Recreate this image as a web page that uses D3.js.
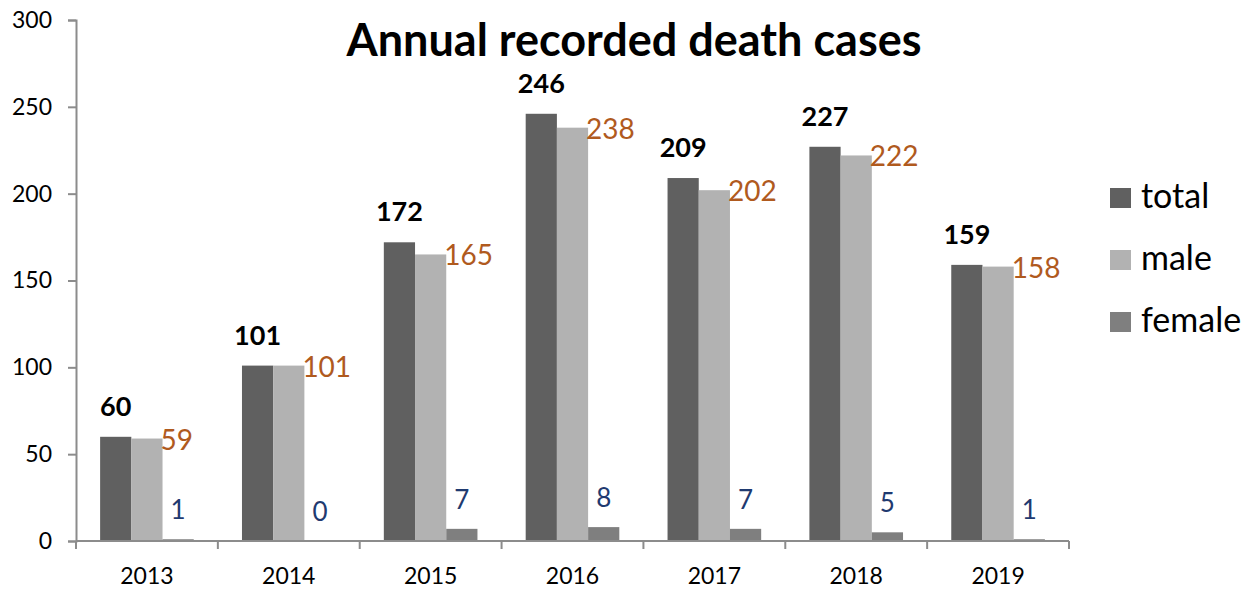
<!DOCTYPE html>
<html lang="en">
<head>
<meta charset="UTF-8">
<title>Annual recorded death cases</title>
<script src="https://d3js.org/d3.v7.min.js"></script>
<style>
  body { margin: 0; background: #fff; }
  svg text { font-family: Lato, "Open Sans", sans-serif; }
</style>
</head>
<body>
<svg id="chart" width="1257" height="590"></svg>
<script>
// data
var years = ["2013", "2014", "2015", "2016", "2017", "2018", "2019"];
var total = [60, 101, 172, 246, 209, 227, 159];
var male = [59, 101, 165, 238, 202, 222, 158];
var female = [1, 0, 7, 8, 7, 5, 1];
var seriesNames = ["total", "male", "female"];
var yTicks = [0, 50, 100, 150, 200, 250, 300];

var svg = d3.select("#chart");

var colors = { total: "#606060", male: "#b2b2b2", female: "#7f7f7f" };
var axisColor = "#8c8c8c";

var rows = years.map(function(y, i) {
  return { year: y, total: total[i], male: male[i], female: female[i] };
});

var plotLeft = 76, plotRight = 1069, plotTop = 20, plotBottom = 541;

var x0 = d3.scaleBand()
  .domain(years)
  .range([plotLeft, plotRight])
  .paddingInner(0.34)
  .paddingOuter(0.17);

var x1 = d3.scaleBand()
  .domain(seriesNames)
  .range([0, x0.bandwidth()]);

var y = d3.scaleLinear()
  .domain([0, 300])
  .range([plotBottom, plotTop]);

// bars
var groups = svg.append("g")
  .selectAll("g")
  .data(rows)
  .enter()
  .append("g")
    .attr("transform", function(d) { return "translate(" + x0(d.year) + ",0)"; });

groups.selectAll("rect")
  .data(function(d) { return seriesNames.map(function(k) { return { key: k, value: d[k] }; }); })
  .enter()
  .append("rect")
    .attr("x", function(d) { return x1(d.key); })
    .attr("y", function(d) { return y(d.value); })
    .attr("width", x1.bandwidth())
    .attr("height", function(d) { return y(0) - y(d.value); })
    .attr("fill", function(d) { return colors[d.key]; });

// y axis
var yAxis = svg.append("g")
  .attr("transform", "translate(" + plotLeft + ",0)")
  .call(d3.axisLeft(y).tickValues(yTicks).tickSize(8).tickPadding(16));
yAxis.select(".domain").attr("stroke", axisColor).attr("stroke-width", 2);
yAxis.selectAll(".tick line").attr("stroke", axisColor).attr("stroke-width", 2);
yAxis.selectAll(".tick text")
  .attr("fill", "#000")
  .style("font-size", "23px");

// x axis: ticks sit at category boundaries
var xAxis = svg.append("g").attr("transform", "translate(0," + plotBottom + ")");
xAxis.append("line")
  .attr("x1", plotLeft).attr("x2", plotRight)
  .attr("stroke", axisColor).attr("stroke-width", 2);
var bounds = years.map(function(yr) { return x0(yr) - x0.step() * 0.17; });
bounds.push(plotRight);
xAxis.selectAll(".xtick")
  .data(bounds)
  .enter()
  .append("line")
    .attr("x1", function(d) { return d; })
    .attr("x2", function(d) { return d; })
    .attr("y1", 0).attr("y2", 8)
    .attr("stroke", axisColor).attr("stroke-width", 2);
xAxis.selectAll(".xlabel")
  .data(years)
  .enter()
  .append("text")
    .attr("x", function(d) { return x0(d) + x0.bandwidth() / 2; })
    .attr("y", 43)
    .attr("text-anchor", "middle")
    .style("font-size", "23px")
    .text(function(d) { return d; });

// value labels
groups.append("text")
  .attr("x", x1("total") + x1.bandwidth() / 2)
  .attr("y", function(d) { return y(d.total) - 21; })
  .attr("text-anchor", "middle")
  .style("font-size", "27px")
  .style("font-weight", "bold")
  .text(function(d) { return d.total; });

groups.append("text")
  .attr("x", x1("male") + x1.bandwidth() - 2)
  .attr("y", function(d) { return y(d.male); })
  .attr("dominant-baseline", "central")
  .attr("fill", "#b05a1e")
  .style("font-size", "28px")
  .text(function(d) { return d.male; });

groups.append("text")
  .attr("x", x1("female") + x1.bandwidth() / 2)
  .attr("y", function(d) { return y(d.female) - 20; })
  .attr("text-anchor", "middle")
  .attr("fill", "#1f3a70")
  .style("font-size", "26px")
  .text(function(d) { return d.female; });

// title
svg.append("text")
  .attr("x", 634)
  .attr("y", 56)
  .attr("text-anchor", "middle")
  .style("font-size", "45px")
  .style("font-weight", "bold")
  .text("Annual recorded death cases");

// legend
var legend = svg.append("g")
  .selectAll("g")
  .data(seriesNames)
  .enter()
  .append("g")
    .attr("transform", function(d, i) { return "translate(1110," + (198 + i * 62) + ")"; });
legend.append("rect")
  .attr("x", 0).attr("y", -10)
  .attr("width", 21).attr("height", 20)
  .attr("fill", function(d) { return colors[d]; });
legend.append("text")
  .attr("x", 31)
  .attr("y", 10)
  .style("font-size", "34px")
  .text(function(d) { return d; });
</script>
</body>
</html>
